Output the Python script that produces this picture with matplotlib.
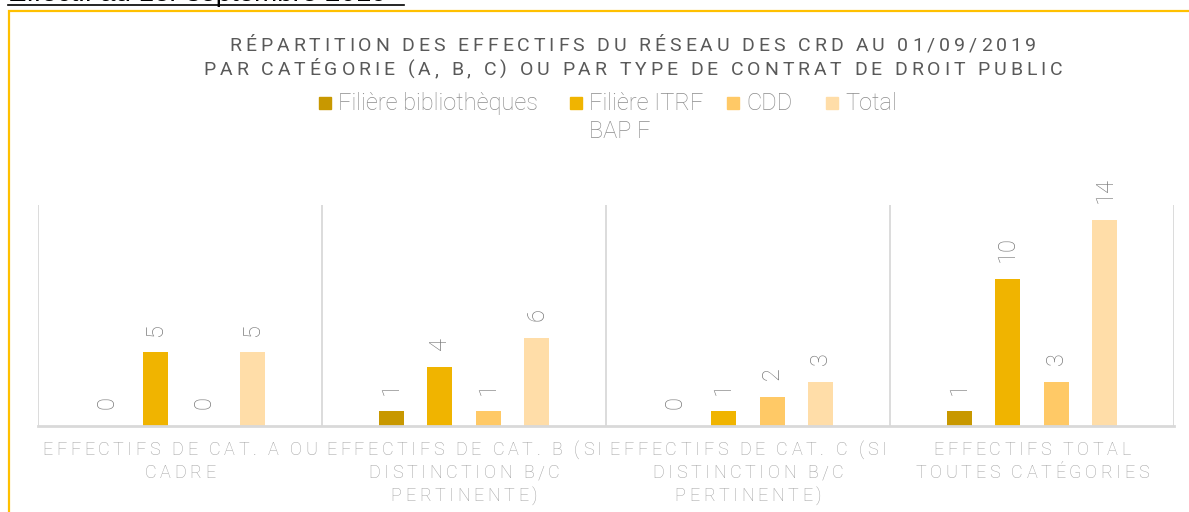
import matplotlib
matplotlib.use("Agg")
import matplotlib.pyplot as plt
from matplotlib.patches import Rectangle
from matplotlib.lines import Line2D
from matplotlib.font_manager import FontProperties
from matplotlib.transforms import IdentityTransform
import numpy as np

W, H = 1189, 512

# data
categories = ["EFFECTIFS DE CAT. A OU\nCADRE",
              "EFFECTIFS DE CAT. B (SI\nDISTINCTION B/C\nPERTINENTE)",
              "EFFECTIFS DE CAT. C (SI\nDISTINCTION B/C\nPERTINENTE)",
              "EFFECTIFS TOTAL\nTOUTES CATÉGORIES"]
series_names = ["Filière bibliothèques", "Filière ITRF\nBAP F", "CDD", "Total"]
bibliotheques = [0, 1, 0, 1]
itrf = [5, 4, 1, 10]
cdd = [0, 1, 2, 3]
total = [5, 6, 3, 14]
title_lines = ["RÉPARTITION DES EFFECTIFS DU RÉSEAU DES CRD AU 01/09/2019",
               "PAR CATÉGORIE (A, B, C) OU PAR TYPE DE CONTRAT DE DROIT PUBLIC"]
header = "Effectif au 1er septembre 2019"

colors = ["#C89800", "#F0B400", "#FFC966", "#FFDDA8"]
plt.rcParams['font.family'] = ['Roboto', 'DejaVu Sans']

fig = plt.figure(figsize=(W / 100, H / 100), dpi=100)
renderer = fig.canvas.get_renderer()


def spaced_text(xc, ytop, s, track, size, weight="normal", color="black"):
    """Draw s centred on xc (pixels), baseline at ytop pixels from the top,
    with `track` extra pixels between letters (Excel-like character spacing)."""
    prop = FontProperties(family=plt.rcParams['font.family'], size=size, weight=weight)
    wx = renderer.get_text_width_height_descent("x", prop, ismath=False)[0]

    def adv(t):
        if not t:
            return 0.0
        return renderer.get_text_width_height_descent(t + "x", prop, ismath=False)[0] - wx

    total_w = adv(s) + track * (len(s) - 1)
    x0 = xc - total_w / 2
    for i, ch in enumerate(s):
        if ch == " ":
            continue
        fig.text(x0 + adv(s[:i]) + track * i, H - ytop, ch, transform=IdentityTransform(),
                 ha="left", va="baseline", fontproperties=prop, color=color)


# clipped header line of the page + gold frame around the chart
fig.text(8 / W, 1 - 1.3 / H, header, fontfamily="Liberation Sans", fontsize=20,
         va="baseline", color="black")
fig.add_artist(Line2D([8 / W, 404 / W], [1 - 4.5 / H] * 2, lw=1.2, color="black"))
fig.add_artist(Rectangle((9 / W, -0.1), 1.2, 1.1 - 11 / H, transform=fig.transFigure,
                         fill=False, edgecolor="#FFC000", lw=1.6))

ax = fig.add_axes([38 / W, 1 - 426 / H, 1136 / W, 221 / H])
x = np.arange(len(categories))
step, width = 0.171, 0.088
for i, (vals, c) in enumerate(zip([bibliotheques, itrf, cdd, total], colors)):
    bars = ax.bar(x + (i - 1.5) * step, vals, width, color=c, zorder=2)
    ax.bar_label(bars, padding=12, rotation=90, fontsize=17, color="#7A7A7A",
                 fontweight="light")

ax.set_xlim(-0.5, 3.5)
ax.set_ylim(0, 15)
for xv in np.arange(-0.5, 4, 1):
    ax.axvline(xv, color="#D9D9D9", lw=1.3, zorder=1)
for s in ["left", "right", "top"]:
    ax.spines[s].set_visible(False)
ax.spines["bottom"].set_color("#D9D9D9")
ax.spines["bottom"].set_linewidth(2)
ax.set_yticks([])
ax.set_xticks(x, [""] * len(x))
ax.tick_params(axis="x", length=0)

# category labels, letter-spaced, centred under each group
for xi, cat in zip(x, categories):
    xc = ax.transData.transform((xi, 0))[0]
    for k, line in enumerate(cat.split("\n")):
        spaced_text(xc, 455 + 23 * k, line, 3.6, 13, "light", "#A0A0A0")

# title
for yb, line in zip([51, 75], title_lines):
    spaced_text(633, yb, line, 3.9, 14, "normal", "#595959")

# legend
for mx, name, c in zip([319, 570, 727, 826], series_names, colors):
    fig.add_artist(Rectangle((mx / W, 1 - 109 / H), 12 / W, 12 / H,
                             transform=fig.transFigure, color=c))
    for k, line in enumerate(name.split("\n")):
        fig.text((mx + 19) / W, 1 - (110 + 28 * k) / H, line, va="baseline", fontsize=17,
                 fontweight="light", color="#8C8C8C")

fig.savefig("out.png", dpi=100)
